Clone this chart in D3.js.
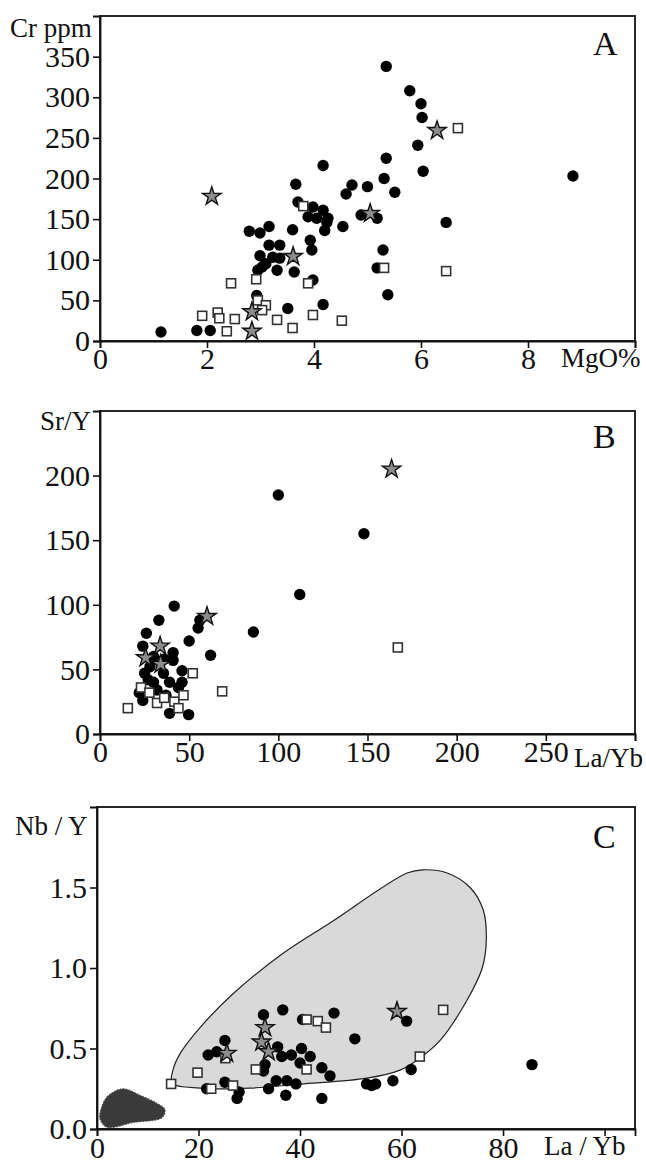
<!DOCTYPE html>
<html><head><meta charset="utf-8">
<script src="https://cdn.jsdelivr.net/npm/d3@7"></script>
<style>
html,body{margin:0;padding:0;background:#fff;}
svg text{font-family:"Liberation Serif","Times New Roman",serif;fill:#111;}
</style></head>
<body>
<svg id="chart" width="646" height="1164"></svg>
<script>
// ---------- Panel A: MgO% vs Cr ppm ----------
const aCircles = [[1.14,11],[1.81,13],[2.06,13],[2.79,135],[2.99,133],[3.16,141],[3.16,118],[3.36,118],[2.99,105],[3.23,103],[3.36,102],[3.03,91],[2.95,87],[3.31,87],[2.93,56],[3.51,40],[3.60,137],[3.63,85],[3.66,193],[3.70,171],[3.89,153],[3.93,124],[3.96,112],[3.98,75],[3.98,165],[4.05,151],[4.17,161],[4.17,216],[4.17,45],[4.20,136],[4.24,146],[4.26,151],[4.54,141],[4.60,181],[4.71,192],[4.88,155],[5.00,190],[5.18,151],[5.31,200],[5.35,225],[5.35,338],[5.51,183],[5.79,308],[5.94,241],[6.00,292],[6.02,275],[6.04,209],[6.47,146],[5.29,112],[5.18,90],[5.38,57],[8.84,203],[3.10,95]];
const aSquares = [[1.91,31],[2.20,35],[2.23,28],[2.37,12],[2.52,27],[2.45,71],[2.92,76],[2.95,50],[3.10,44],[3.03,38],[3.31,26],[3.60,16],[3.80,166],[3.89,71],[3.98,32],[4.52,25],[5.31,90],[6.47,86],[6.69,262]];
const aStars = [[2.09,178],[2.84,36],[2.84,12],[3.61,104],[5.05,157],[6.30,259]];
const aXTicks = [0,2,4,6,8,10];
const aYTicks = [0,50,100,150,200,250,300,350];

// ---------- Panel B: La/Yb vs Sr/Y ----------
const bCircles = [[100,185],[112,108],[148,155],[86,79],[62,61],[50,72],[55,82],[56,88],[41.6,99],[33,88],[26,78],[24,68],[25,47],[22,32],[24,26],[39,16],[49.7,15],[46,49],[46,40],[41,63],[41,57],[30,40],[39,40],[35.6,47],[32,34],[28,52],[36,58],[30,60],[37,30],[44,36],[27,42]];
const bSquares = [[15.6,20],[23,36],[27.7,32],[32,24],[36,28],[41.7,25],[44,20],[46.8,30],[52,47],[68.5,33],[167,67]];
const bStars = [[60,91],[33.7,68],[25.6,59],[34,54],[163.5,205]];
const bXTicks = [0,50,100,150,200,250,300];
const bYTicks = [0,50,100,150,200];

// ---------- Panel C: La/Yb vs Nb/Y ----------
const cCircles = [[21.9,0.46],[23.6,0.48],[25.2,0.55],[21.6,0.25],[25.2,0.29],[28,0.23],[27.6,0.19],[32.8,0.71],[36.6,0.74],[33.1,0.40],[32.8,0.36],[33.8,0.25],[35.3,0.30],[37.4,0.30],[39.2,0.28],[37.2,0.21],[35.6,0.51],[36.4,0.45],[38.3,0.46],[40.3,0.50],[40,0.41],[42,0.45],[44.3,0.38],[45.9,0.33],[44.3,0.19],[40.5,0.68],[46.7,0.72],[50.8,0.56],[61,0.67],[85.7,0.40],[61.9,0.37],[58.3,0.30],[53.1,0.28],[54.1,0.27],[54.9,0.28]];
const cSquares = [[14.6,0.28],[19.8,0.35],[22.5,0.25],[26.8,0.27],[25.3,0.44],[31.3,0.37],[41.3,0.37],[41.3,0.68],[43.5,0.67],[45.1,0.63],[68.2,0.74],[63.6,0.45]];
const cStars = [[25.6,0.47],[33.1,0.63],[32.4,0.54],[33.8,0.48],[59.1,0.73]];
const cLightField = [[14.8,0.285],[20.3,0.254],[30.1,0.254],[40.0,0.279],[53.2,0.316],[59.7,0.366],[63.6,0.44],[67.6,0.55],[72.9,0.80],[75.9,1.0],[76.7,1.17],[76.1,1.36],[73.5,1.50],[69.0,1.59],[64.2,1.61],[61.1,1.59],[45.9,1.28],[36.6,1.09],[26.8,0.84],[20.3,0.63],[16.4,0.47],[15.0,0.37]];
const cDarkField = [[0.6,0.10],[2.0,0.20],[5.1,0.25],[8.5,0.21],[11.8,0.16],[13.4,0.12],[12.8,0.07],[7.1,0.04],[2.0,0.01],[0.6,0.06]];
const cXTicks = [0,20,40,60,80,100];
const cYTicks = [0,0.5,1.0,1.5];

const svg = d3.select("#chart");

function panel(opts){
  const g = svg.append("g");
  const x = d3.scaleLinear().domain(opts.xDomain).range([opts.left, opts.right]);
  const y = d3.scaleLinear().domain(opts.yDomain).range([opts.bottom, opts.top]);

  if (opts.under) opts.under(g, x, y);

  g.append("rect").attr("x", opts.left).attr("y", opts.top)
    .attr("width", opts.right-opts.left).attr("height", opts.bottom-opts.top)
    .attr("fill","none").attr("stroke","#111").attr("stroke-width",1.8);

  const xAxis = d3.axisBottom(x).tickValues(opts.xTicks).tickSizeOuter(0).tickSize(7).tickPadding(opts.xPad)
    .tickFormat((d,i)=> i===opts.xTicks.length-1 ? "" : opts.xFmt(d));
  const yAxis = d3.axisLeft(y).tickValues(opts.yTicks).tickSizeOuter(0).tickSize(7).tickPadding(3)
    .tickFormat(opts.yFmt);
  const gx = g.append("g").attr("transform",`translate(0,${opts.bottom})`).call(xAxis);
  const gy = g.append("g").attr("transform",`translate(${opts.left},0)`).call(yAxis);
  [gx,gy].forEach(a=>{
    a.select(".domain").attr("stroke","#111").attr("stroke-width",1.8);
    a.selectAll(".tick line").attr("stroke","#111").attr("stroke-width",1.6);
    a.selectAll(".tick text").attr("font-size",30).attr("fill","#111");
  });

  g.append("g").selectAll("circle").data(opts.circles).join("circle")
    .attr("cx",d=>x(d[0])).attr("cy",d=>y(d[1])).attr("r",5.7).attr("fill","#000");
  const s = 9;
  g.append("g").selectAll("rect").data(opts.squares).join("rect")
    .attr("x",d=>x(d[0])-s/2).attr("y",d=>y(d[1])-s/2).attr("width",s).attr("height",s)
    .attr("fill","#fff").attr("stroke","#333").attr("stroke-width",1.6);
  const star = d3.symbol().type(d3.symbolStar).size(105);
  g.append("g").selectAll("path").data(opts.stars).join("path")
    .attr("d",star).attr("transform",d=>`translate(${x(d[0])},${y(d[1])})`)
    .attr("fill","#8c8c8c").attr("stroke","#111").attr("stroke-width",1.4);

  g.append("text").attr("x",opts.yLab[1]).attr("y",opts.yLab[2]).attr("font-size",27).text(opts.yLab[0]);
  g.append("text").attr("x",opts.xLab[1]).attr("y",opts.xLab[2]).attr("font-size",27).text(opts.xLab[0]);
  g.append("text").attr("x",opts.letter[1]).attr("y",opts.letter[2]).attr("font-size",34).text(opts.letter[0]);
}

panel({
  left:100,right:635,top:16,bottom:341,
  xDomain:[0,10], yDomain:[0,400],
  xTicks:aXTicks, yTicks:aYTicks, xPad:0,
  xFmt:d3.format("d"), yFmt:d3.format("d"),
  circles:aCircles, squares:aSquares, stars:aStars,
  yLab:["Cr ppm",10,37], xLab:["MgO%",561,367], letter:["A",593,55]
});

panel({
  left:100,right:635,top:411,bottom:734,
  xDomain:[0,300], yDomain:[0,250],
  xTicks:bXTicks, yTicks:bYTicks, xPad:0,
  xFmt:d3.format("d"), yFmt:d3.format("d"),
  circles:bCircles, squares:bSquares, stars:bStars,
  yLab:["Sr/Y",40,430], xLab:["La/Yb",574,767], letter:["B",593,448]
});

panel({
  left:97,right:635,top:807,bottom:1129,
  xDomain:[0,106], yDomain:[0,2],
  xTicks:cXTicks, yTicks:cYTicks, xPad:1,
  xFmt:d3.format("d"), yFmt:d3.format(".1f"),
  circles:cCircles, squares:cSquares, stars:cStars,
  yLab:["Nb / Y",15,835], xLab:["La / Yb",544,1155], letter:["C",593,848],
  under:(g,x,y)=>{
    const line = d3.line().x(d=>x(d[0])).y(d=>y(d[1])).curve(d3.curveCatmullRomClosed.alpha(0.5));
    g.append("path").attr("d",line(cLightField)).attr("fill","#d9d9d9").attr("stroke","#222").attr("stroke-width",1.2);
    g.append("path").attr("d",line(cDarkField)).attr("fill","#3a3a3a").attr("stroke","#555").attr("stroke-width",1.2).attr("stroke-dasharray","1.5,1.5");
  }
});
</script>
</body></html>
